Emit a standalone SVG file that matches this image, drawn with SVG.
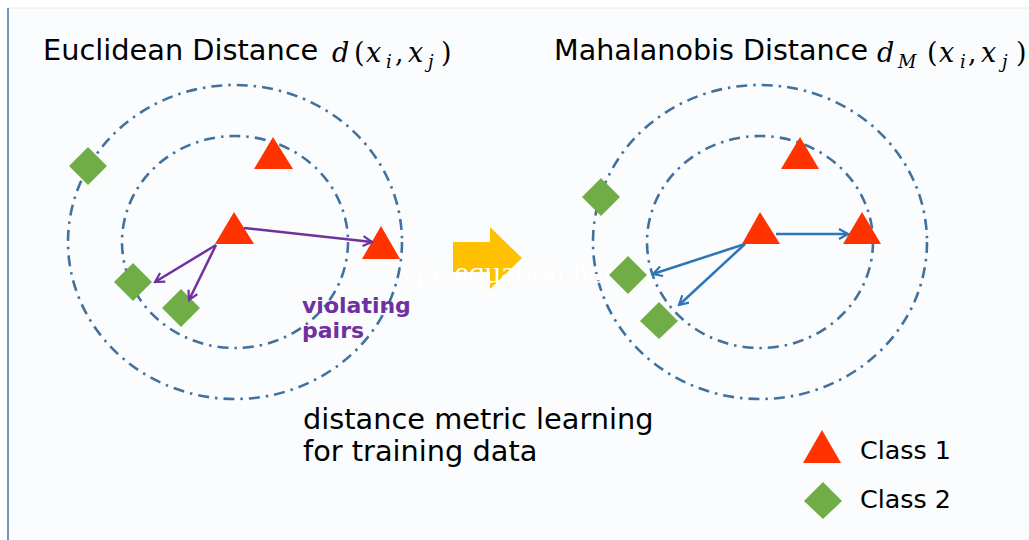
<svg xmlns="http://www.w3.org/2000/svg" width="1029" height="540" viewBox="0 0 1029 540">
<defs>
<style>
.ring{fill:none;stroke:#41719c;stroke-width:2.6;stroke-dasharray:11 6 2.5 6}
.tri{fill:#ff3300}
.dia{fill:#70ad47}
.sans{font-family:"DejaVu Sans","Noto Sans",sans-serif;fill:#000}
.math{font-family:"DejaVu Serif","Liberation Serif",serif;font-style:italic;fill:#000;font-size:27px}
.up{font-style:normal}
.sub{font-size:18px}
.pa{stroke:#7030a0;stroke-width:2.5;fill:none;marker-end:url(#ap)}
.ba{stroke:#2e75b6;stroke-width:2.5;fill:none;marker-end:url(#ab)}
</style>
<marker id="ap" viewBox="0 0 12 12" refX="10" refY="6" markerWidth="12" markerHeight="12" markerUnits="userSpaceOnUse" orient="auto"><path d="M1 1 L10 6 L1 11" fill="none" stroke="#7030a0" stroke-width="2.2"/></marker>
<marker id="ab" viewBox="0 0 12 12" refX="10" refY="6" markerWidth="12" markerHeight="12" markerUnits="userSpaceOnUse" orient="auto"><path d="M1 1 L10 6 L1 11" fill="none" stroke="#2e75b6" stroke-width="2.2"/></marker>
</defs>
<rect x="0" y="0" width="1029" height="540" fill="#ffffff"/>
<rect x="8" y="8" width="1021" height="532" fill="#fafcfe"/>
<line x1="8" y1="8" x2="1029" y2="8" stroke="#e6eaee" stroke-width="1"/>
<line x1="8" y1="8" x2="8" y2="540" stroke="#7396b8" stroke-width="2"/>

<g id="rings">
<ellipse class="ring" cx="235" cy="242" rx="167" ry="157"/>
<ellipse class="ring" cx="235" cy="242" rx="113" ry="106"/>
<ellipse class="ring" cx="760" cy="242" rx="167" ry="157"/>
<ellipse class="ring" cx="760" cy="242" rx="113" ry="106"/>
</g>

<g id="title-left">
<text class="sans" x="43" y="60" font-size="28.8">Euclidean Distance</text>
<text class="math" y="62"><tspan x="332">d</tspan><tspan class="up" x="354">(</tspan><tspan x="366">x</tspan><tspan class="sub" x="386" y="68">i</tspan><tspan class="up" x="395" y="62">,</tspan><tspan x="408">x</tspan><tspan class="sub" x="428" y="68">j</tspan><tspan class="up" x="441" y="62">)</tspan></text>
</g>
<g id="title-right">
<text class="sans" x="554" y="60" font-size="28.6">Mahalanobis Distance</text>
<text class="math" y="62"><tspan x="877">d</tspan><tspan class="sub" x="898" y="68">M</tspan><tspan class="up" x="927" y="62">(</tspan><tspan x="939">x</tspan><tspan class="sub" x="960" y="68">i</tspan><tspan class="up" x="968" y="62">,</tspan><tspan x="981">x</tspan><tspan class="sub" x="1002" y="68">j</tspan><tspan class="up" x="1016" y="62">)</tspan></text>
</g>

<g id="left-nodes">
<polygon id="L-t1" class="tri" points="273,137 254,169 293,169"/>
<polygon id="L-t2" class="tri" points="234,212 215,244 254,244"/>
<polygon id="L-t3" class="tri" points="381,226 362,259 400,259"/>
<polygon id="L-d1" class="dia" points="88,147 107,166 88,185 69,166"/>
<polygon id="L-d2" class="dia" points="133,263 152,282 133,301 114,282"/>
<polygon id="L-d3" class="dia" points="181,289 200,308 181,327 162,308"/>
</g>

<g id="big-arrow">
<polygon points="453,242 490,242 490,227 522,258 490,289 490,272 453,272" fill="#ffc000"/>
</g>
<text x="383" y="283" font-family="Liberation Serif,serif" font-size="32" fill="#ffffff">Type equation here.</text>

<g id="right-nodes">
<polygon id="R-t1" class="tri" points="800,137 781,169 819,169"/>
<polygon id="R-t2" class="tri" points="760,212 742,244 780,244"/>
<polygon id="R-t3" class="tri" points="862,212 843,244 881,244"/>
<polygon id="R-d1" class="dia" points="601,178 620,197 601,216 582,197"/>
<polygon id="R-d2" class="dia" points="628,256 647,275 628,294 609,275"/>
<polygon id="R-d3" class="dia" points="659,302 678,321 659,339 640,321"/>
</g>

<g id="connectors">
<line class="pa" x1="244" y1="228" x2="372" y2="242"/>
<line class="pa" x1="216" y1="245" x2="155" y2="282"/>
<line class="pa" x1="216" y1="245" x2="189" y2="300"/>
<line class="ba" x1="776" y1="234" x2="848" y2="234"/>
<line class="ba" x1="745" y1="244" x2="653" y2="274"/>
<line class="ba" x1="745" y1="244" x2="679" y2="305"/>
</g>

<g id="violating-label">
<text x="302" y="313" font-family="DejaVu Sans,sans-serif" font-weight="bold" font-size="22" fill="#7030a0">violating</text>
<text x="302" y="338" font-family="DejaVu Sans,sans-serif" font-weight="bold" font-size="22" fill="#7030a0">pairs</text>
</g>

<g id="caption">
<text class="sans" x="303" y="429" font-size="28.8">distance metric learning</text>
<text class="sans" x="303" y="461" font-size="28.8">for training data</text>
</g>

<g id="legend">
<polygon class="tri" points="822,430 803,463 841,463"/>
<text class="sans" x="860" y="459" font-size="25.4">Class 1</text>
<polygon class="dia" points="823,482 842,501 823,519 804,501"/>
<text class="sans" x="860" y="508" font-size="25.4">Class 2</text>
</g>
</svg>
